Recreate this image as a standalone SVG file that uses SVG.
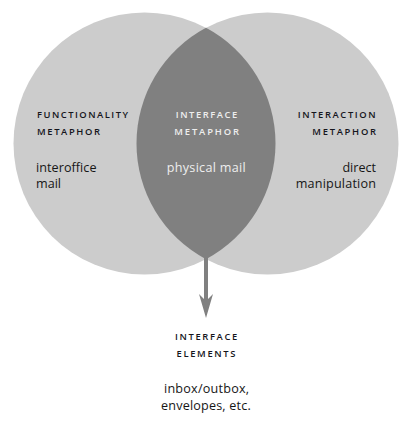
<svg xmlns="http://www.w3.org/2000/svg" width="413" height="423" viewBox="0 0 413 423">
  <style>
    .circle { fill: #cccccc; }
    .lens { fill: #808080; }
    .head { font-family: "Open Sans", "DejaVu Sans", sans-serif; font-size: 9.4px; font-weight: 600; fill: #15151c; }
    .body { font-family: "Open Sans", "DejaVu Sans", sans-serif; font-size: 12.6px; fill: #161616; }
    .light { fill: #eeeeee; }
    .conn { stroke: #808080; stroke-width: 4; fill: none; }
    .head-arrow { fill: #808080; }
  </style>
  <g id="functionality-metaphor">
    <circle class="circle" cx="144.5" cy="143.5" r="131"/>
  </g>
  <g id="interaction-metaphor">
    <circle class="circle" cx="267.5" cy="143.5" r="131"/>
  </g>
  <g id="interface-metaphor">
    <path class="lens" d="M206,27.83 A131,131 0 0,1 206,259.17 A131,131 0 0,1 206,27.83 Z"/>
  </g>
  <g id="connectors">
    <line class="conn" x1="206" y1="258" x2="206" y2="302"/>
    <polygon class="head-arrow" points="199,294 206,318 213,294 206,301"/>
  </g>
  <g id="functionality-text">
    <text class="head" x="37" y="117.7" textLength="91" lengthAdjust="spacing">FUNCTIONALITY</text>
    <text class="head" x="37" y="135" textLength="63" lengthAdjust="spacing">METAPHOR</text>
    <text class="body" x="36" y="171.7" textLength="60.5" lengthAdjust="spacing">interoffice</text>
    <text class="body" x="36" y="188.3">mail</text>
  </g>
  <g id="interface-text">
    <text class="head light" x="175.7" y="117.7" textLength="61.6" lengthAdjust="spacing">INTERFACE</text>
    <text class="head light" x="174.3" y="135" textLength="64.7" lengthAdjust="spacing">METAPHOR</text>
    <text class="body light" x="166.7" y="171.7" textLength="79" lengthAdjust="spacing">physical mail</text>
  </g>
  <g id="interaction-text">
    <text class="head" x="297.7" y="117.7" textLength="78" lengthAdjust="spacing">INTERACTION</text>
    <text class="head" x="312.3" y="135" textLength="63.7" lengthAdjust="spacing">METAPHOR</text>
    <text class="body" x="376" y="171.7" text-anchor="end">direct</text>
    <text class="body" x="295.7" y="188.3" textLength="80.3" lengthAdjust="spacing">manipulation</text>
  </g>
  <g id="interface-elements">
    <text class="head" x="175" y="340" textLength="62.3" lengthAdjust="spacing">INTERFACE</text>
    <text class="head" x="176.5" y="356.5" textLength="59" lengthAdjust="spacing">ELEMENTS</text>
    <text class="body" x="164" y="393.3" textLength="85" lengthAdjust="spacing">inbox/outbox,</text>
    <text class="body" x="161" y="409.6" textLength="89.7" lengthAdjust="spacing">envelopes, etc.</text>
  </g>
</svg>
